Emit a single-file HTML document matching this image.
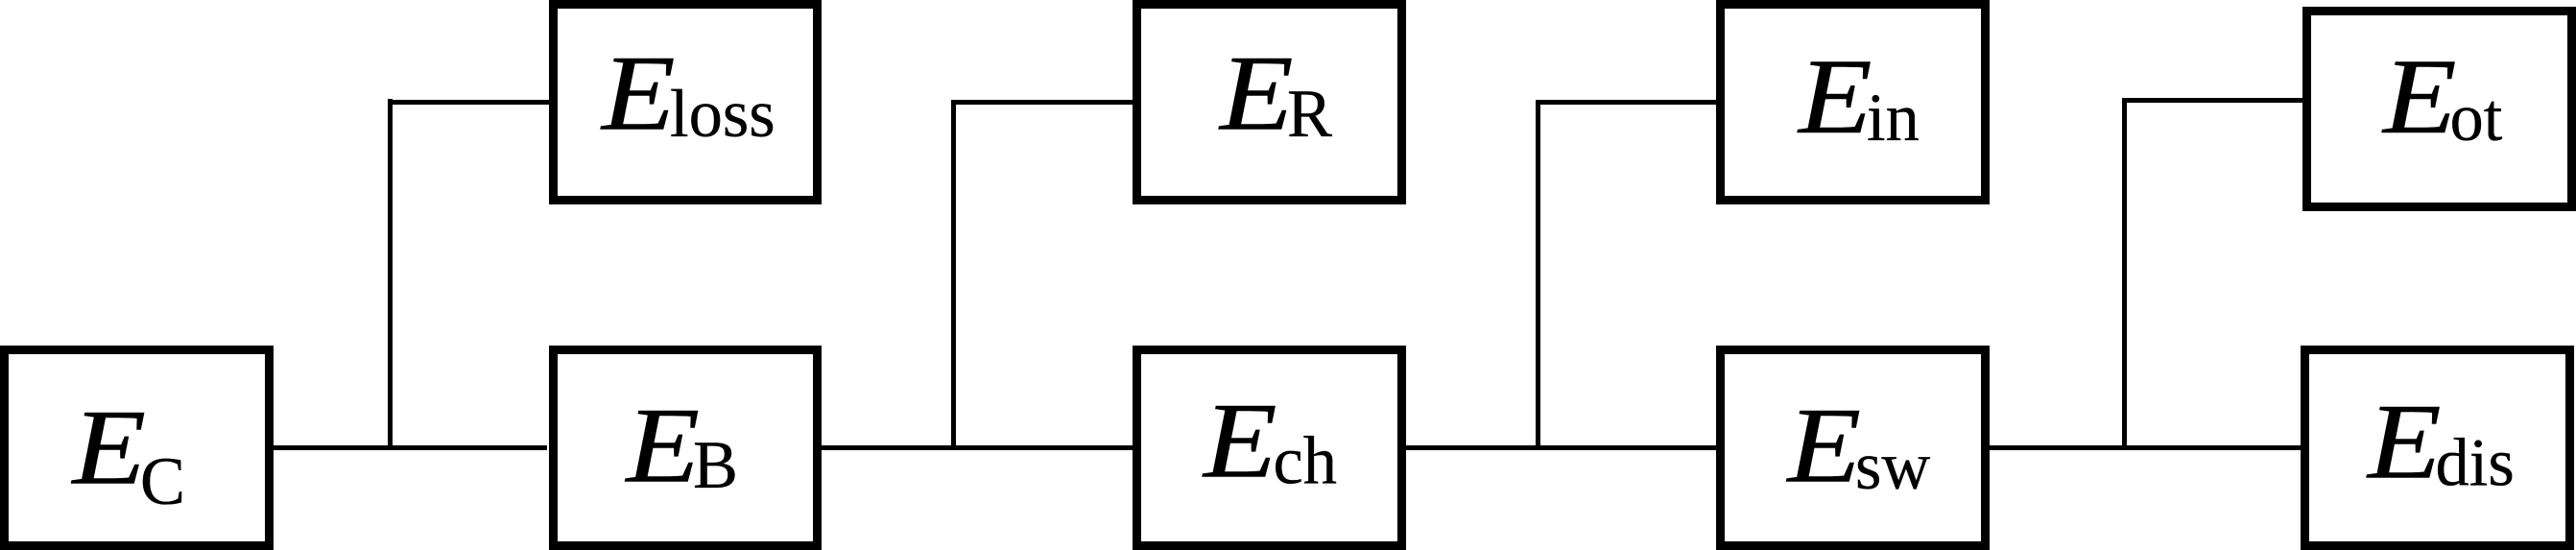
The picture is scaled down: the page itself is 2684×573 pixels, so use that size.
<!DOCTYPE html>
<html>
<head>
<meta charset="utf-8">
<style>
html,body{margin:0;padding:0;background:#fff;width:2684px;height:573px;overflow:hidden}
svg{display:block}
.e{font-family:"Liberation Serif",serif;font-style:italic;font-size:112px;fill:#000;stroke:#000;stroke-width:.5}
.s{font-family:"Liberation Serif",serif;font-size:70.5px;fill:#000;stroke:#000;stroke-width:.3}
</style>
</head>
<body>
<svg width="2684" height="573" viewBox="0 0 2684 573" xmlns="http://www.w3.org/2000/svg">
<rect width="2684" height="573" fill="#fff"/>
<g fill="none" stroke="#000" stroke-width="9" shape-rendering="crispEdges">
<rect x="4.5" y="364.5" width="276" height="204"/>
<rect x="576.5" y="4.5" width="275" height="204"/>
<rect x="576.5" y="364.5" width="275" height="204"/>
<rect x="1184.5" y="4.5" width="276" height="204"/>
<rect x="1184.5" y="364.5" width="276" height="204"/>
<rect x="1792.5" y="4.5" width="276" height="204"/>
<rect x="1792.5" y="364.5" width="276" height="204"/>
<rect x="2403.5" y="11.5" width="276" height="204"/>
<rect x="2401.5" y="364.5" width="276" height="204"/>
</g>
<g fill="#000" shape-rendering="crispEdges">
<rect x="285" y="464" width="285" height="5"/>
<rect x="856" y="464" width="324" height="5"/>
<rect x="1465" y="464" width="323" height="5"/>
<rect x="2073" y="464" width="324" height="5"/>
<rect x="404" y="103" width="5" height="363"/>
<rect x="991" y="104" width="5" height="362"/>
<rect x="1600" y="104" width="5" height="362"/>
<rect x="2211" y="102" width="5" height="364"/>
<rect x="404" y="104" width="170" height="5"/>
<rect x="991" y="104" width="190" height="5"/>
<rect x="1600" y="104" width="189" height="5"/>
<rect x="2211" y="102" width="189" height="5"/>
</g>
<text class="e" transform="translate(75.5,503.6) scale(1.12,1)">E</text><text class="s" x="146" y="525">C</text>
<text class="e" transform="translate(627,134.4) scale(1.12,1)">E</text><text class="s" x="698" y="141.8">loss</text>
<text class="e" transform="translate(652.5,501.5) scale(1.12,1)">E</text><text class="s" x="722" y="508">B</text>
<text class="e" transform="translate(1271,134.4) scale(1.12,1)">E</text><text class="s" x="1341" y="141.8">R</text>
<text class="e" transform="translate(1254,496.3) scale(1.12,1)">E</text><text class="s" x="1326.5" y="503.6">ch</text>
<text class="e" transform="translate(1874,138) scale(1.12,1)">E</text><text class="s" x="1945" y="146">in</text>
<text class="e" transform="translate(1862.5,501.5) scale(1.12,1)">E</text><text class="s" x="1933" y="509">sw</text>
<text class="e" transform="translate(2483,138) scale(1.12,1)">E</text><text class="s" x="2552.5" y="146">ot</text>
<text class="e" transform="translate(2467,497.4) scale(1.12,1)">E</text><text class="s" x="2537.5" y="505.5">dis</text>
</svg>
</body>
</html>
